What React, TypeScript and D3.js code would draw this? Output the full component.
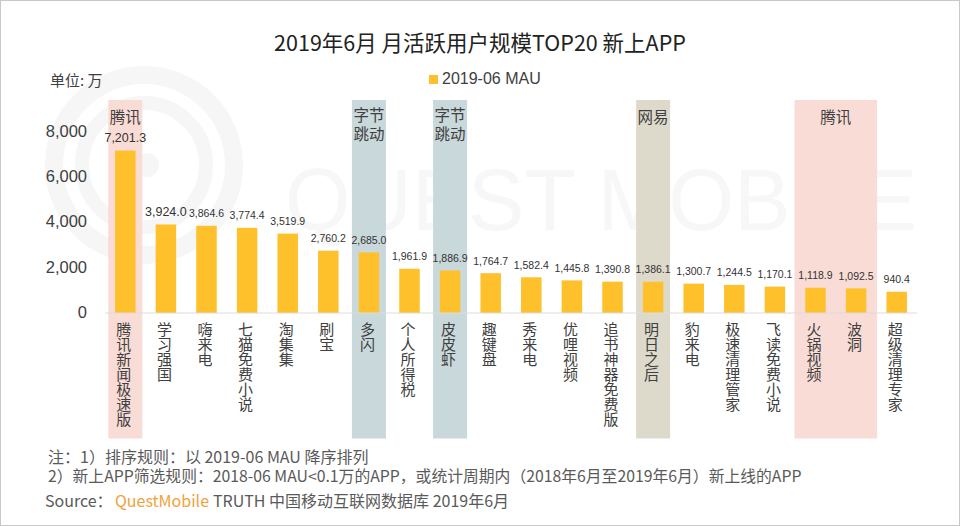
import { useEffect, useRef } from "react";
import * as d3 from "d3";

const categories = ["腾讯新闻极速版", "学习强国", "嗨来电", "七猫免费小说", "淘集集", "刷宝", "多闪", "个人所得税", "皮皮虾", "趣键盘", "秀来电", "优哩视频", "追书神器免费版", "明日之后", "豹来电", "极速清理管家", "飞读免费小说", "火锅视频", "波洞", "超级清理专家"];
const mau = [7201.3, 3924.0, 3864.6, 3774.4, 3519.9, 2760.2, 2685.0, 1961.9, 1886.9, 1764.7, 1582.4, 1445.8, 1390.8, 1386.1, 1300.7, 1244.5, 1170.1, 1118.9, 1092.5, 940.4];
const yTicks = [0, 2000, 4000, 6000, 8000];

// company bands, by first and last category
const groups = [
  { first: "腾讯新闻极速版", last: "腾讯新闻极速版", lines: ["腾讯"], color: "#f9dcd6" },
  { first: "多闪", last: "多闪", lines: ["字节", "跳动"], color: "#c9d8db" },
  { first: "皮皮虾", last: "皮皮虾", lines: ["字节", "跳动"], color: "#c9d8db" },
  { first: "明日之后", last: "明日之后", lines: ["网易"], color: "#dedacb" },
  { first: "火锅视频", last: "波洞", lines: ["腾讯"], color: "#f9dcd6" },
];

const title = "2019年6月 月活跃用户规模TOP20 新上APP";
const note1 = "注：1）排序规则：以 2019-06 MAU 降序排列";
const note2 = "2）新上APP筛选规则：2018-06 MAU<0.1万的APP，或统计周期内（2018年6月至2019年6月）新上线的APP";

const CJK = "'Noto Sans CJK SC', sans-serif";
const LATIN = "'Liberation Sans', Arial, sans-serif";

export default function App() {
  const ref = useRef<SVGSVGElement | null>(null);

  useEffect(() => {
    const svg = d3.select(ref.current);
    svg.selectAll("*").remove();

    const x = d3.scaleBand().domain(categories).range([105, 917]);
    const y = d3.scaleLinear().domain([0, 8000]).range([313, 132.5]);
    const cx = (c: string) => (x(c) || 0) + x.bandwidth() / 2;
    const barW = 20.5;

    // watermark
    const wm = svg.append("g").attr("fill", "none").attr("stroke", "#f6f6f6");
    wm.append("circle").attr("cx", 144).attr("cy", 165).attr("r", 90).attr("stroke-width", 18);
    wm.append("circle").attr("cx", 144).attr("cy", 165).attr("r", 62).attr("stroke-width", 14);
    svg.append("circle").attr("cx", 147).attr("cy", 165).attr("r", 12).attr("fill", "#f6f6f6");
    svg.append("text").attr("x", 285).attr("y", 230).attr("fill", "#f7f7f7")
      .attr("textLength", 632).attr("lengthAdjust", "spacingAndGlyphs")
      .style("font-family", LATIN).style("font-size", "88px")
      .text("QUEST MOBILE");

    // company bands
    groups.forEach((g) => {
      const pad = g.first === g.last ? 17 : 21;
      const left = cx(g.first) - pad;
      const right = cx(g.last) + pad;
      svg.append("rect").attr("x", left).attr("y", 100).attr("width", right - left).attr("height", 338.5).attr("fill", g.color);
      g.lines.forEach((line, i) => {
        svg.append("text").attr("x", (left + right) / 2).attr("y", (g.lines.length > 1 ? 121 : 122.5) + i * 19)
          .attr("text-anchor", "middle").attr("fill", "#404040")
          .style("font-family", CJK).style("font-size", "15.5px").text(line);
      });
    });

    // bars
    svg.selectAll(".bar").data(mau).enter().append("rect")
      .attr("class", "bar")
      .attr("x", (d, i) => cx(categories[i]) - barW / 2)
      .attr("y", (d) => y(d))
      .attr("width", barW)
      .attr("height", (d) => y(0) - y(d))
      .attr("fill", "#fec12c");

    // baseline
    svg.append("line").attr("x1", 105).attr("x2", 917).attr("y1", y(0)).attr("y2", y(0)).attr("stroke", "#dcdcdc");

    // y axis
    const axis = svg.append("g").attr("transform", "translate(92,0)")
      .call(d3.axisLeft(y).tickValues(yTicks).tickSize(0).tickPadding(5).tickFormat((d) => d3.format(",")(d as number)));
    axis.select(".domain").remove();
    axis.selectAll("text").attr("fill", "#404040").attr("dy", "0.25em").style("font-family", LATIN).style("font-size", "16.5px");

    // value labels
    svg.selectAll(".val").data(mau).enter().append("text")
      .attr("class", "val")
      .attr("x", (d, i) => cx(categories[i]))
      .attr("y", (d) => y(d) - 8.5)
      .attr("text-anchor", "middle")
      .attr("fill", "#333")
      .style("font-family", LATIN)
      .style("font-size", (d, i) => (i < 2 ? "12.5px" : "10.5px"))
      .text((d) => d3.format(",.1f")(d));

    // category labels
    svg.selectAll(".cat").data(categories).enter().append("text")
      .attr("class", "cat")
      .attr("x", (d) => cx(d) - 1.5)
      .attr("y", 322)
      .attr("fill", "#404040")
      .style("font-family", CJK)
      .style("font-size", "15px")
      .style("writing-mode", "vertical-rl")
      .style("text-orientation", "upright")
      .text((d) => d);

    // title
    svg.append("text").attr("x", 480).attr("y", 51).attr("text-anchor", "middle").attr("fill", "#222")
      .style("font-family", CJK).style("font-size", "21.5px").text(title);

    svg.append("text").attr("x", 50).attr("y", 86).attr("fill", "#404040")
      .style("font-family", CJK).style("font-size", "15px").text("单位: 万");

    // legend
    svg.append("rect").attr("x", 429).attr("y", 75).attr("width", 9).attr("height", 9).attr("fill", "#fec12c");
    svg.append("text").attr("x", 442).attr("y", 84).attr("fill", "#404040")
      .style("font-family", LATIN).style("font-size", "16px").text("2019-06 MAU");

    // footnotes
    const foot = (tx: number, ty: number, size: string) => svg.append("text").attr("x", tx).attr("y", ty).attr("fill", "#5a5a5a")
      .style("font-family", CJK).style("font-size", size);
    foot(48, 463, "16px").text(note1);
    foot(48, 482, "15.8px").text(note2);
    const src = foot(45, 507, "16px");
    src.append("tspan").text("Source：");
    src.append("tspan").attr("x", 115).attr("fill", "#f0a33a").text("QuestMobile");
    src.append("tspan").attr("x", 213).text("TRUTH 中国移动互联网数据库 2019年6月");

    // image border
    svg.append("rect").attr("x", 0.5).attr("y", 0.5).attr("width", 959).attr("height", 525)
      .attr("fill", "none").attr("stroke", "#c8c8c8");
  }, []);

  return (
    <svg ref={ref} width={960} height={526} style={{ position: "absolute", left: 0, top: 0, background: "#fff" }} />
  );
}
